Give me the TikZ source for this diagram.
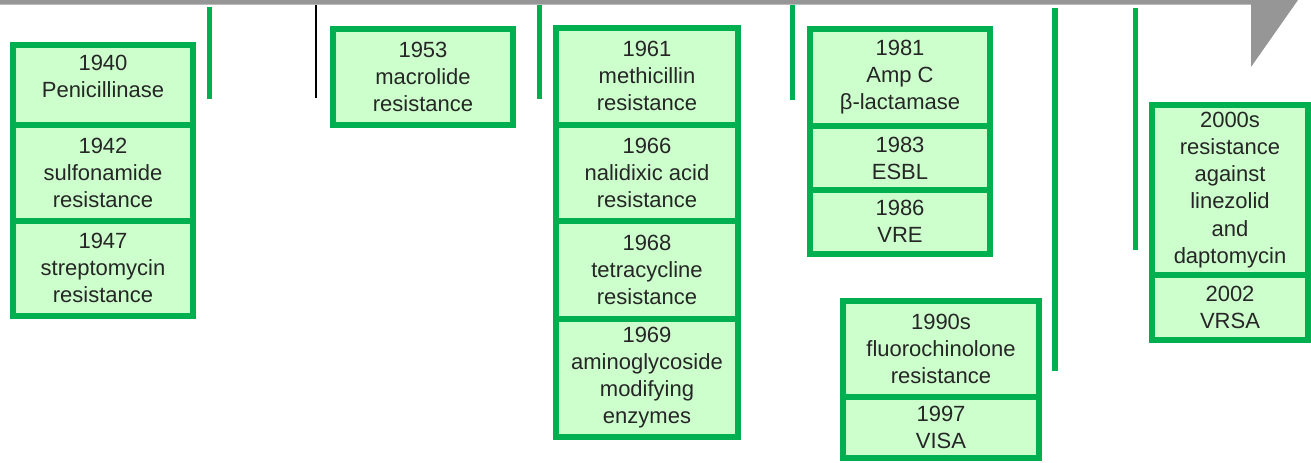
\documentclass[tikz,border=0pt]{standalone}
\usepackage{fontspec}
\setmainfont{Liberation Sans}
\usetikzlibrary{positioning}
\definecolor{evgreen}{RGB}{0,176,80}
\definecolor{evfill}{RGB}{204,255,204}
\definecolor{axgray}{RGB}{150,150,150}
\tikzset{
  evt/.style 2 args={draw=evgreen, fill=evfill, line width=4.5pt, outer sep=0pt, inner sep=0pt,
    minimum width=#1*0.75pt, minimum height=#2*0.75pt, align=center,
    font=\fontsize{16.5}{20.3}\selectfont, text=black!85},
  evtick/.style={draw=evgreen, line width=4pt},
}
\begin{document}
\begin{tikzpicture}[x=0.75pt,y=-0.75pt]
  \useasboundingbox (0,0) rectangle (1311,462);
  \fill[axgray] (0,0)--(1298,0)--(1251,67)--(1251,4.7)--(0,4.7)--cycle;
  \draw[evtick] (209.5,7)--(209.5,99);
  \draw[line width=1.5pt] (316,4.7)--(316,98);
  \draw[evtick] (539.7,5)--(539.7,99);
  \draw[evtick] (792.5,5)--(792.5,100);
  \draw[evtick] (1055,8)--(1055,371);
  \draw[evtick] (1135.3,8)--(1135.3,250);
  \node[evt={180}{80}, anchor=north] (b1940) at (103,45) {1940\\Penicillinase\rule[-13.5pt]{0pt}{13.5pt}};
  \node[evt={180}{95.5}, below=0pt of b1940] (b1942) {1942\\sulfonamide\\resistance};
  \node[evt={180}{95.5}, below=0pt of b1942] (b1947) {1947\\streptomycin\\resistance};
  \node[evt={180}{96}, anchor=north] (b1953) at (423,29) {1953\\macrolide\\resistance};
  \node[evt={182}{96.5}, anchor=north] (b1961) at (647,28) {1961\\methicillin\\resistance};
  \node[evt={182}{96.5}, below=0pt of b1961] (b1966) {1966\\nalidixic acid\\resistance};
  \node[evt={182}{97.5}, below=0pt of b1966] (b1968) {1968\\tetracycline\\resistance};
  \node[evt={182}{118}, below=0pt of b1968] (b1969) {1969\\aminoglycoside\\modifying\\enzymes};
  \node[evt={180}{97}, anchor=north] (b1981) at (900,29) {1981\\Amp C\\β-lactamase};
  \node[evt={180}{64}, below=0pt of b1981] (b1983) {1983\\ESBL};
  \node[evt={180}{63.5}, below=0pt of b1983] (b1986) {1986\\VRE};
  \node[evt={196}{96}, anchor=north] (b1990) at (941,301) {1990s\\fluorochinolone\\resistance};
  \node[evt={196}{61}, below=0pt of b1990] (b1997) {1997\\VISA};
  \node[evt={156}{170}, anchor=north] (b2000) at (1230,105) {2000s\\resistance\\against\\linezolid\\and\\daptomycin};
  \node[evt={156}{64.5}, below=0pt of b2000] (b2002) {2002\\VRSA};
\end{tikzpicture}
\end{document}
